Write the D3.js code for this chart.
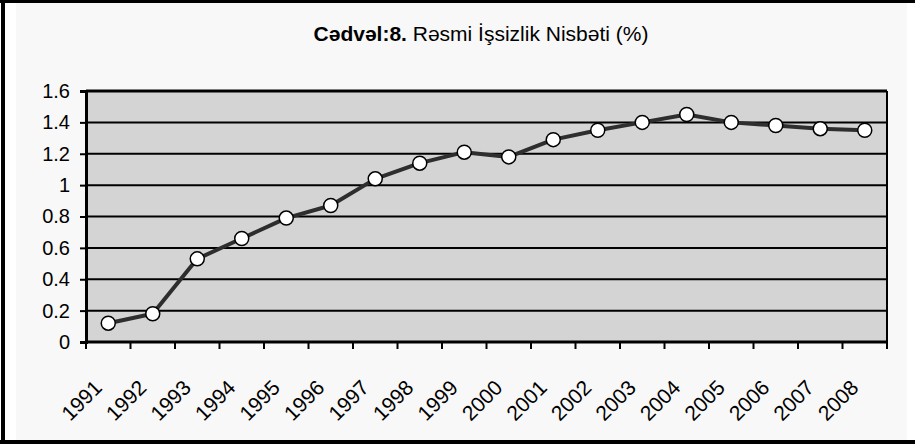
<!DOCTYPE html>
<html>
<head>
<meta charset="utf-8">
<script src="https://cdn.jsdelivr.net/npm/d3@7"></script>
<style>
  body { margin: 0; background: #fff; }
  svg { display: block; font-family: "Liberation Sans", Arial, sans-serif; }
</style>
</head>
<body>
<svg id="chart" width="915" height="444"></svg>
<script>
// chart data
var years = ['1991', '1992', '1993', '1994', '1995', '1996', '1997', '1998', '1999',
             '2000', '2001', '2002', '2003', '2004', '2005', '2006', '2007', '2008'];
var rates = [0.12, 0.18, 0.53, 0.66, 0.79, 0.87, 1.04, 1.14, 1.21,
             1.18, 1.29, 1.35, 1.40, 1.45, 1.40, 1.38, 1.36, 1.35];
var yTicks = [0, 0.2, 0.4, 0.6, 0.8, 1, 1.2, 1.4, 1.6];
var titleBold = 'Cədvəl:8.';
var titleRest = ' Rəsmi İşsizlik Nisbəti (%)';

var svg = d3.select('#chart');

// outer frame
svg.append('rect').attr('x', 16).attr('y', 3).attr('width', 891).attr('height', 437).attr('fill', '#f8f8f8');
svg.append('rect').attr('x', 1).attr('y', 0).attr('width', 4).attr('height', 444).attr('fill', '#000');
svg.append('rect').attr('x', 0).attr('y', 0).attr('width', 915).attr('height', 3).attr('fill', '#000');
svg.append('rect').attr('x', 0).attr('y', 440).attr('width', 915).attr('height', 4).attr('fill', '#000');

var margin = {top: 91, left: 86, right: 887, bottom: 342};

var x = d3.scaleBand()
    .domain(years)
    .range([margin.left, margin.right]);

var y = d3.scaleLinear()
    .domain([0, 1.6])
    .range([margin.bottom, margin.top]);

// plot area
svg.append('rect')
    .attr('x', margin.left).attr('y', margin.top)
    .attr('width', margin.right - margin.left)
    .attr('height', margin.bottom - margin.top)
    .attr('fill', '#d4d4d4');

// gridlines
svg.append('g').selectAll('line')
    .data(yTicks)
    .enter().append('line')
    .attr('x1', margin.left).attr('x2', margin.right)
    .attr('y1', function(d) { return y(d); })
    .attr('y2', function(d) { return y(d); })
    .attr('stroke', '#000')
    .attr('stroke-width', 2);

// frame lines
svg.append('line').attr('x1', margin.left).attr('x2', margin.right)
    .attr('y1', margin.top).attr('y2', margin.top).attr('stroke', '#000').attr('stroke-width', 3);
svg.append('line').attr('x1', margin.right).attr('x2', margin.right)
    .attr('y1', margin.top).attr('y2', margin.bottom).attr('stroke', '#000').attr('stroke-width', 2);

// y axis
var yAxis = svg.append('g')
    .attr('transform', 'translate(' + margin.left + ',0)')
    .call(d3.axisLeft(y).tickValues(yTicks).tickSize(6).tickPadding(10)
        .tickFormat(function(d) { return d3.format('')(d); }));
yAxis.select('.domain').attr('stroke-width', 3);
yAxis.selectAll('.tick line').attr('stroke-width', 2);
yAxis.selectAll('.tick text').attr('font-size', 20).attr('fill', '#000')
    .attr('font-family', '"Liberation Sans", Arial, sans-serif');

// x axis: ticks on category boundaries
var xBounds = years.map(function(d) { return x(d); }).concat([margin.right]);
svg.append('line').attr('x1', margin.left - 1).attr('x2', margin.right + 1)
    .attr('y1', margin.bottom).attr('y2', margin.bottom).attr('stroke', '#000').attr('stroke-width', 3);
svg.append('g').selectAll('line')
    .data(xBounds)
    .enter().append('line')
    .attr('x1', function(d) { return d; })
    .attr('x2', function(d) { return d; })
    .attr('y1', margin.bottom).attr('y2', margin.bottom + 7)
    .attr('stroke', '#000').attr('stroke-width', 2);

svg.append('g').selectAll('text')
    .data(years)
    .enter().append('text')
    .attr('transform', function(d) {
        return 'translate(' + (x(d) + x.bandwidth() / 2 - 5) + ',' + 389 + ') rotate(-45)';
    })
    .attr('text-anchor', 'end')
    .attr('font-size', 21)
    .text(function(d) { return d; });

// series line
var line = d3.line()
    .x(function(d, i) { return x(years[i]) + x.bandwidth() / 2; })
    .y(function(d) { return y(d); });

svg.append('path')
    .datum(rates)
    .attr('d', line)
    .attr('fill', 'none')
    .attr('stroke', '#2e2e2e')
    .attr('stroke-width', 4)
    .attr('stroke-linejoin', 'round');

svg.append('g').selectAll('circle')
    .data(rates)
    .enter().append('circle')
    .attr('cx', function(d, i) { return x(years[i]) + x.bandwidth() / 2; })
    .attr('cy', function(d) { return y(d); })
    .attr('r', 7)
    .attr('fill', '#fff')
    .attr('stroke', '#000')
    .attr('stroke-width', 1.5);

// title
var title = svg.append('text')
    .attr('x', 481)
    .attr('y', 41)
    .attr('text-anchor', 'middle')
    .attr('font-size', 21);
title.append('tspan').attr('font-weight', 'bold').text(titleBold);
title.append('tspan').text(titleRest);
</script>
</body>
</html>
